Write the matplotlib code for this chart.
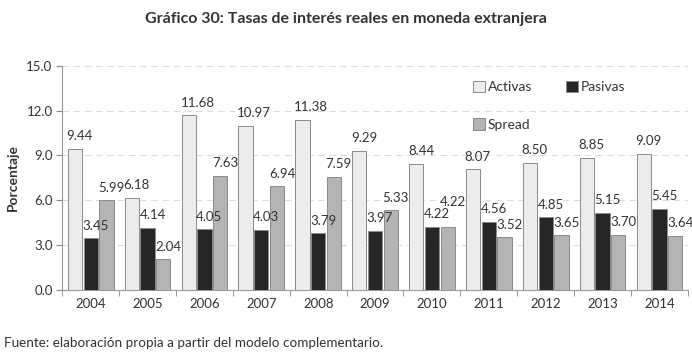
import numpy as np
from matplotlib import pyplot as plt
from matplotlib.patches import Patch

years = ["2004", "2005", "2006", "2007", "2008", "2009", "2010", "2011", "2012", "2013", "2014"]
activas = [9.44, 6.18, 11.68, 10.97, 11.38, 9.29, 8.44, 8.07, 8.50, 8.85, 9.09]
pasivas = [3.45, 4.14, 4.05, 4.03, 3.79, 3.97, 4.22, 4.56, 4.85, 5.15, 5.45]
spread = [5.99, 2.04, 7.63, 6.94, 7.59, 5.33, 4.22, 3.52, 3.65, 3.70, 3.64]

plt.rcParams['font.family'] = ['Lato', 'DejaVu Sans']

fig = plt.figure(figsize=(6.92, 3.54), dpi=100)
ax = fig.add_axes([0.090, 0.181, 0.904, 0.633])

x = np.arange(len(years))
w = 0.25
off = 0.277
series = [
    (activas, "Activas", "#ececec"),
    (pasivas, "Pasivas", "#262626"),
    (spread, "Spread", "#b4b4b4"),
]
for i, (vals, name, col) in enumerate(series):
    pos = x + (i - 1) * off
    ax.bar(pos, vals, width=w, color=col, edgecolor="#8a8a8a", linewidth=0.7, zorder=3)
    for j, (p, v) in enumerate(zip(pos, vals)):
        dy = 0.45
        # etiquetas que chocan: se suben un poco (como en el original)
        if name == "Spread" and abs(v - pasivas[j]) < 0.6:
            dy = 1.25
        ax.text(p - w / 2 - 0.02, v + dy, f"{v:.2f}", ha="left", va="bottom",
                fontsize=9.5, color="#333333", zorder=4)

ax.set_ylim(0, 15)
ax.set_xlim(-0.5, len(years) - 0.5)
ticks = np.arange(0, 15.1, 3)
ax.set_yticks(ticks)
ax.set_yticklabels([f"{t:.1f}" for t in ticks], fontsize=9.5, color="#333333")
ax.set_xticks(x)
ax.set_xticklabels(years, fontsize=9.5, color="#333333")
ax.tick_params(axis="x", length=0, pad=6)
ax.set_xticks(np.arange(-0.5, len(years)), minor=True)
ax.tick_params(axis="x", which="minor", length=4, color="#888888")
ax.tick_params(axis="y", length=4, color="#888888", pad=3)
ax.yaxis.grid(True, linestyle=(0, (6, 4)), color="#dddddd", linewidth=0.8, zorder=0)
for s in ["top", "right"]:
    ax.spines[s].set_visible(False)
for s in ["left", "bottom"]:
    ax.spines[s].set_color("#999999")
    ax.spines[s].set_linewidth(0.8)

ax.set_ylabel("Porcentaje", fontsize=10, fontweight="bold", color="#333333", labelpad=5)

# orden de columnas: Activas/Spread en la primera, Pasivas en la segunda
order = [0, 2, 1]
handles = [Patch(facecolor=series[k][2], edgecolor="#8a8a8a", linewidth=0.7) for k in order]
ax.legend(handles, [series[k][1] for k in order], ncol=2, loc="upper left",
          bbox_to_anchor=(0.636, 0.99), frameon=False, fontsize=10,
          handlelength=0.9, handleheight=0.9, handletextpad=0.2,
          columnspacing=2.4, labelspacing=1.8, labelcolor="#333333")

fig.text(0.5, 0.945, "Gráfico 30: Tasas de interés reales en moneda extranjera",
         ha="center", va="center", fontsize=11.5, fontweight="bold", color="#333333")
fig.text(0.006, 0.03, "Fuente: elaboración propia a partir del modelo complementario.",
         ha="left", va="center", fontsize=9.7, color="#333333")

fig.savefig("out.png", dpi=100)
